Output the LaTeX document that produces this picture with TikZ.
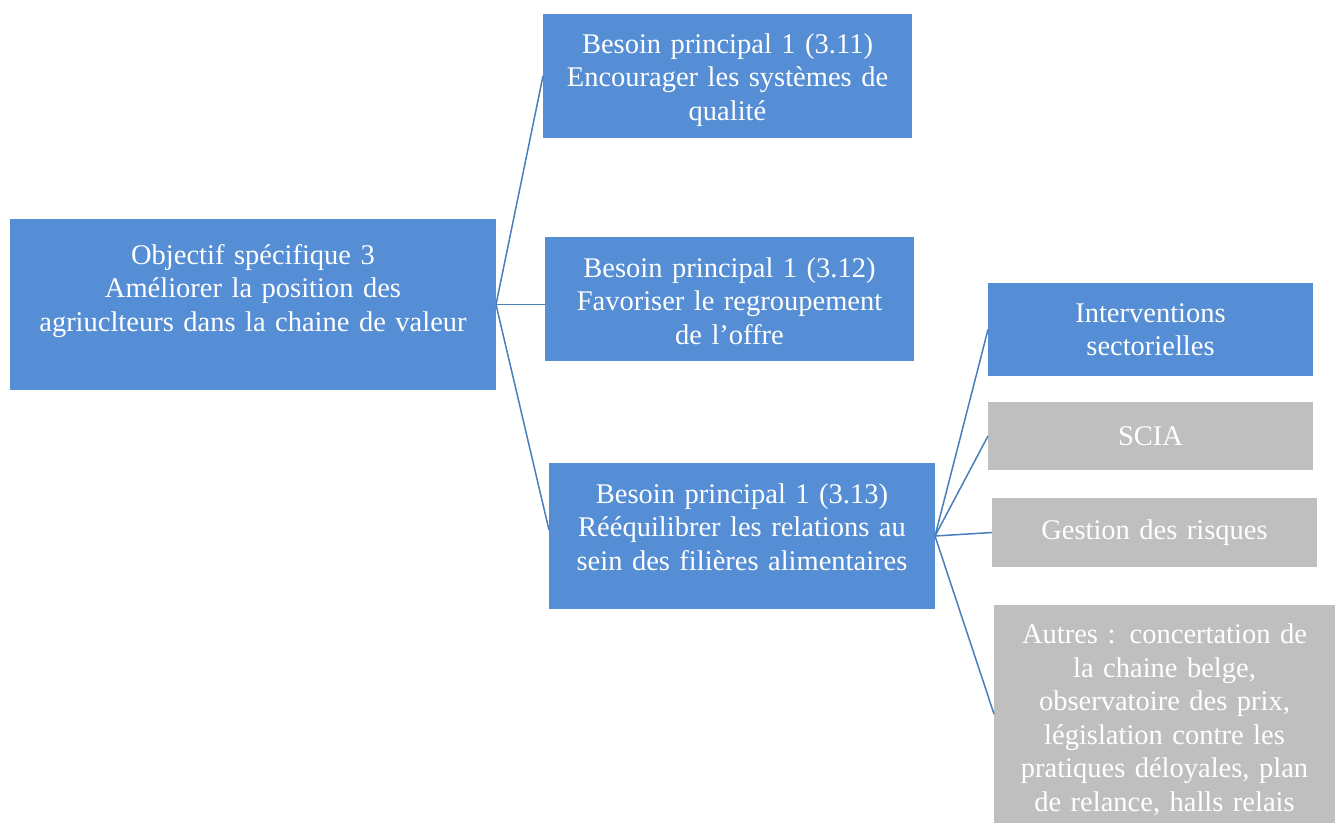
\documentclass[tikz,border=0pt]{standalone}
\usepackage{fontspec}
\setmainfont{Liberation Serif}
\definecolor{boxblue}{HTML}{558ED5}
\definecolor{boxgray}{HTML}{BFBFBF}
\definecolor{linkblue}{HTML}{4A7EBB}
\begin{document}
\begin{tikzpicture}[x=1pt,y=-1pt,
  box/.style={anchor=north west, inner sep=0pt, outer sep=0pt, align=center,
    text=white, font=\fontsize{28.5}{33.5}\selectfont},
  bluebox/.style={box, fill=boxblue},
  graybox/.style={box, fill=boxgray},
  link/.style={draw=linkblue, line width=1.5pt}]
\useasboundingbox (0,0) rectangle (1335,823);
\node[bluebox, minimum width=486pt, minimum height=171pt, text width=476pt] (root) at (10,219)
  {Objectif spécifique 3\\Améliorer la position des\\agriuclteurs dans la chaine de valeur\\\mbox{}};
\node[bluebox, minimum width=369pt, minimum height=124pt, text width=360pt] (b1) at (543,14)
  {\rule{0pt}{28pt}Besoin principal 1 (3.11)\\Encourager les systèmes de\\qualité};
\node[bluebox, minimum width=369pt, minimum height=124pt, text width=360pt] (b2) at (545,237)
  {\rule{0pt}{24pt}Besoin principal 1 (3.12)\\Favoriser le regroupement\\de l’offre};
\node[bluebox, minimum width=386pt, minimum height=146pt, text width=376pt] (b3) at (549,463)
  {Besoin principal 1 (3.13)\\Rééquilibrer les relations au\\sein des filières alimentaires\rule[-18pt]{0pt}{1pt}};
\node[bluebox, minimum width=325pt, minimum height=93pt, text width=315pt] (i1) at (988,283)
  {Interventions\\sectorielles};
\node[graybox, minimum width=325pt, minimum height=68pt, text width=315pt] (s1) at (988,402)
  {SCIA};
\node[graybox, minimum width=325pt, minimum height=69pt, text width=315pt] (g1) at (992,498)
  {Gestion des risques};
\node[graybox, minimum width=341pt, minimum height=218pt, text width=336pt] (a1) at (994,605)
  {\rule{0pt}{31pt}Autres : concertation de\\la chaine belge,\\observatoire des prix,\\législation contre les\\pratiques déloyales, plan\\de relance, halls relais};
\draw[link] (root.east) -- (b1.west);
\draw[link] (root.east) -- (root.east -| b2.west);
\draw[link] (root.east) -- ([yshift=6pt]b3.west);
\draw[link] (b3.east) -- (i1.west);
\draw[link] (b3.east) -- (s1.west);
\draw[link] (b3.east) -- (g1.west);
\draw[link] (b3.east) -- (a1.west);
\end{tikzpicture}
\end{document}
